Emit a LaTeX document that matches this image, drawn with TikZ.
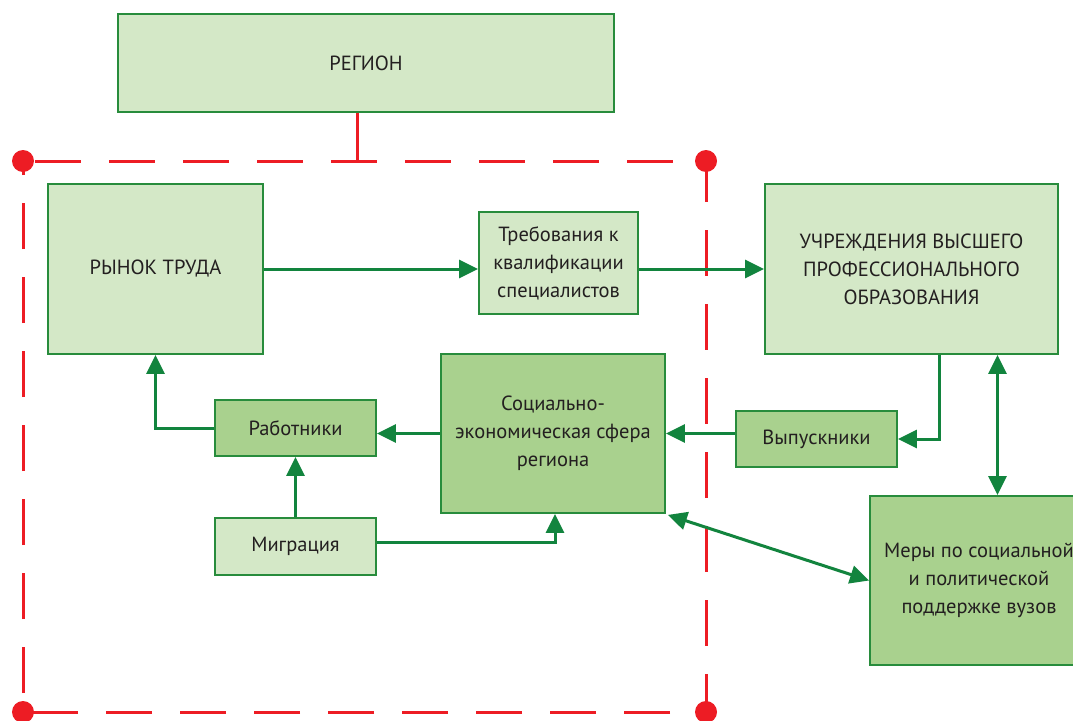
\documentclass[tikz,border=0pt]{standalone}
\usepackage{fontspec}
\setmainfont{PT Sans}
\usetikzlibrary{arrows.meta}
\definecolor{lightg}{RGB}{212,232,199}
\definecolor{medg}{RGB}{169,209,142}
\definecolor{boxb}{RGB}{40,140,60}
\definecolor{lineg}{RGB}{18,132,62}
\definecolor{redc}{RGB}{237,28,36}
\definecolor{txt}{RGB}{35,31,32}
\begin{document}
\begin{tikzpicture}[x=1pt,y=-1pt,
  box/.style={draw=boxb,line width=1.8pt,inner sep=0pt,align=center,text=txt,
    font=\fontsize{20.5}{28}\selectfont},
  lbox/.style={box,fill=lightg},
  mbox/.style={box,fill=medg},
  tipg/.tip={Triangle[length=19pt,width=18pt]},
  conn/.style={draw=lineg,line width=3pt,-tipg},
  dconn/.style={draw=lineg,line width=3pt,tipg-tipg},
  redline/.style={draw=redc,line width=3pt},
]
\useasboundingbox (0,0) rectangle (1073,720);
\fill[white] (0,0) rectangle (1073,720);

% red frame
\coordinate (r1) at (23,161);
\coordinate (r2) at (706,161);
\coordinate (r3) at (706,712);
\coordinate (r4) at (23,712);
\draw[redline,dash pattern=on 46pt off 28pt,dash phase=-12pt] (r1) -- (r2) -- (r3) -- (r4) -- cycle;
\foreach \c in {r1,r2,r3,r4} \fill[redc] (\c) circle (11pt);

% nodes
\node[lbox,minimum width=496pt,minimum height=98pt] (reg) at (366,63) {РЕГИОН};
\node[lbox,minimum width=215pt,minimum height=170pt] (ryn) at (155.5,269) {РЫНОК ТРУДА};
\node[lbox,minimum width=159pt,minimum height=102pt] (treb) at (558.5,263) {Требования к\\квалификации\\специалистов};
\node[lbox,minimum width=293pt,minimum height=170pt] (uchr) at (911.5,269) {УЧРЕЖДЕНИЯ ВЫСШЕГО\\ПРОФЕССИОНАЛЬНОГО\\ОБРАЗОВАНИЯ};
\node[mbox,minimum width=161pt,minimum height=56pt] (rab) at (295.5,428) {Работники};
\node[mbox,minimum width=224pt,minimum height=159pt] (soc) at (553,433.5) {Социально-\\экономическая сфера\\региона};
\node[mbox,minimum width=161pt,minimum height=56pt] (vyp) at (816.5,439) {Выпускники};
\node[lbox,minimum width=161pt,minimum height=57pt] (migr) at (295.5,546.5) {Миграция};
\node[mbox,minimum width=218pt,minimum height=169pt] (mery) at (979,580.5) {Меры по социальной\\и политической\\поддержке вузов};

% region link
\draw[redline] ([xshift=-9pt]reg.south) -- ([xshift=-9pt]reg.south |- r1);

% connectors
\draw[conn] (ryn.east) -- (ryn.east -| treb.west);
\draw[conn] (treb.east |- ryn.east) -- (uchr.west);
\draw[conn] ([xshift=27.5pt]uchr.south) |- (vyp.east);
\draw[conn] (soc.east -| vyp.west) -- (soc.east);
\draw[conn] (soc.west) -- (soc.west -| rab.east);
\draw[conn] (rab.west) -| (ryn.south);
\draw[conn] (migr.north) -- (rab.south);
\draw[conn] ([yshift=4.5pt]migr.east) -| ([xshift=2pt]soc.south);
\draw[dconn] ([xshift=86pt]uchr.south) -- ([xshift=86pt]uchr.south |- mery.north);
\draw[dconn] ([xshift=2pt,yshift=-1pt]soc.south east) -- (mery.west);
\end{tikzpicture}
\end{document}
